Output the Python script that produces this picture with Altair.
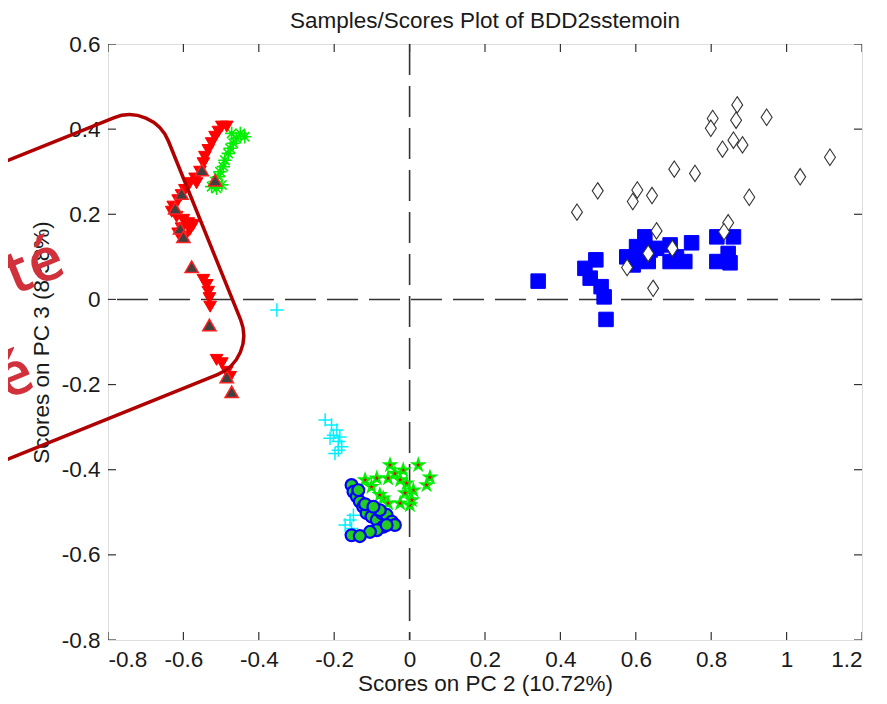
import altair as alt
import pandas as pd

# ---------------- data ----------------
x_ticks = [-0.8, -0.6, -0.4, -0.2, 0, 0.2, 0.4, 0.6, 0.8, 1.0, 1.2]
y_ticks = [-0.8, -0.6, -0.4, -0.2, 0, 0.2, 0.4, 0.6]

# white diamonds
dia_x = [0.444, 0.499, 0.604, 0.592, 0.643, 0.702, 0.757, 0.804, 0.799, 0.869, 0.866, 0.947,
         0.830, 0.859, 0.883, 1.115, 1.036, 0.901, 0.845, 0.834, 0.655, 0.633, 0.697, 0.577, 0.646]
dia_y = [0.205, 0.255, 0.257, 0.230, 0.244, 0.306, 0.296, 0.425, 0.402, 0.457, 0.421, 0.428,
         0.353, 0.374, 0.363, 0.334, 0.288, 0.240, 0.180, 0.159, 0.161, 0.108, 0.120, 0.075, 0.026]

# blue squares
sq_x = [0.341, 0.521, 0.465, 0.494, 0.479, 0.508, 0.516, 0.576, 0.593, 0.602, 0.624, 0.633,
        0.655, 0.691, 0.691, 0.730, 0.748, 0.815, 0.859, 0.815, 0.845, 0.850, 0.708, 0.638, 0.611]
sq_y = [0.043, -0.047, 0.073, 0.093, 0.050, 0.030, 0.006, 0.100, 0.081, 0.124, 0.147, 0.089,
        0.120, 0.128, 0.089, 0.089, 0.133, 0.147, 0.147, 0.089, 0.108, 0.086, 0.100, 0.116, 0.100]

# red downward triangles
rd_x = [-0.498, -0.485, -0.507, -0.516, -0.525, -0.534, -0.543, -0.547, -0.556, -0.569, -0.583,
        -0.596, -0.605, -0.614, -0.627, -0.631, -0.618, -0.600, -0.587, -0.605, -0.614, -0.596,
        -0.583, -0.574, -0.565, -0.547, -0.538, -0.534, -0.531, -0.529, -0.512, -0.498, -0.485, -0.476]
rd_y = [0.406, 0.406, 0.394, 0.382, 0.367, 0.351, 0.335, 0.320, 0.300, 0.284, 0.273,
        0.257, 0.245, 0.233, 0.218, 0.206, 0.194, 0.187, 0.179, 0.167, 0.155, 0.147,
        0.163, 0.175, 0.273, 0.046, 0.034, 0.018, 0.003, -0.017, -0.142, -0.150, -0.170, -0.182]

# dark upward triangles
du_x = [-0.551, -0.516, -0.605, -0.622, -0.609, -0.600, -0.578, -0.531, -0.485, -0.472]
du_y = [0.304, 0.280, 0.249, 0.214, 0.167, 0.147, 0.077, -0.060, -0.182, -0.217]

# green asterisks
ga_x = [-0.449, -0.459, -0.468, -0.476, -0.481, -0.490, -0.494, -0.503, -0.507, -0.516, -0.525,
        -0.512, -0.498, -0.437, -0.472]
ga_y = [0.390, 0.378, 0.367, 0.355, 0.343, 0.327, 0.312, 0.300, 0.288, 0.277, 0.265,
        0.261, 0.269, 0.382, 0.390]

# cyan plus
cp_x = [-0.352, -0.224, -0.207, -0.193, -0.202, -0.185, -0.189, -0.211, -0.189, -0.198, -0.180,
        -0.158, -0.171, -0.149, -0.154]
cp_y = [-0.025, -0.283, -0.295, -0.307, -0.319, -0.323, -0.334, -0.326, -0.354, -0.362, -0.346,
        -0.518, -0.530, -0.507, -0.538]

# green circles, blue edge
gc_x = [-0.154, -0.149, -0.140, -0.132, -0.123, -0.114, -0.101, -0.087, -0.074, -0.061, -0.047,
        -0.039, -0.070, -0.087, -0.105, -0.154, -0.132, -0.118, -0.136, -0.061, -0.079, -0.096]
gc_y = [-0.436, -0.452, -0.463, -0.475, -0.487, -0.502, -0.510, -0.518, -0.502, -0.506, -0.522,
        -0.530, -0.534, -0.542, -0.546, -0.554, -0.556, -0.481, -0.448, -0.530, -0.495, -0.487]

# red stars, green edge
rs_x = [-0.052, -0.017, -0.039, -0.118, -0.087, -0.057, 0.023, 0.054, 0.045, -0.008, 0.010,
        -0.101, -0.070, -0.057, -0.025, 0.001, -0.079, -0.012, 0.006, -0.025]
rs_y = [-0.389, -0.401, -0.409, -0.424, -0.420, -0.420, -0.389, -0.418, -0.436, -0.432, -0.448,
        -0.440, -0.467, -0.479, -0.479, -0.483, -0.459, -0.455, -0.471, -0.424]

# stamp overlay (anchor in data units)
stamp_x = [-0.544]
stamp_y = [0.162]
stamp_text = ["té", "é"]
stamp_text_x = [-0.905, -0.986]
stamp_text_y = [0.062, -0.205]

title_text = "Samples/Scores Plot of BDD2sstemoin"
x_title = "Scores on PC 2 (10.72%)"
y_title = "Scores on PC 3 (8.58%)"

# ---------------- chart ----------------
FONT = "Liberation Sans"
FS = 22.5
TXT = "#1a1a1a"
LABEL_EXPR = "'' + (round(datum.value * 10) / 10)"

xs = alt.Scale(domain=[-0.8, 1.2], nice=False, zero=False)
ys = alt.Scale(domain=[-0.8, 0.6], nice=False, zero=False)

X = alt.X("x:Q", scale=xs, axis=alt.Axis(values=x_ticks, labelExpr=LABEL_EXPR, ticks=False,
                                         domain=False, grid=False, title=x_title, orient="bottom",
                                         labelPadding=8, titlePadding=2, labelFontSize=FS,
                                         titleFontSize=FS, labelFont=FONT, titleFont=FONT,
                                         labelColor=TXT, titleColor=TXT,
                                         titleFontWeight="normal"))
Y = alt.Y("y:Q", scale=ys, axis=alt.Axis(values=y_ticks, labelExpr=LABEL_EXPR, ticks=False,
                                         domain=False, grid=False, title=y_title, orient="left",
                                         labelPadding=8, titlePadding=8, labelFontSize=FS,
                                         titleFontSize=FS, labelFont=FONT, titleFont=FONT,
                                         labelColor=TXT, titleColor=TXT,
                                         titleFontWeight="normal"))


def df(xv, yv, **extra):
    d = pd.DataFrame({"x": xv, "y": yv})
    for k, v in extra.items():
        d[k] = v
    return d


base_rule_v = alt.Chart(df([0], [0])).mark_rule(color="#333333", strokeWidth=1.6,
                                                strokeDash=[31, 11]).encode(x=X)
base_rule_h = alt.Chart(df([0], [0])).mark_rule(color="#333333", strokeWidth=1.6,
                                                strokeDash=[31, 11]).encode(y=Y)

tick_style = dict(color="#333333", thickness=1.2, size=16, clip=True, opacity=1)
ticks_b = alt.Chart(df(x_ticks, [-0.8] * len(x_ticks))).mark_tick(orient="vertical", **tick_style).encode(x=X, y=Y)
ticks_t = alt.Chart(df(x_ticks, [0.6] * len(x_ticks))).mark_tick(orient="vertical", **tick_style).encode(x=X, y=Y)
ticks_l = alt.Chart(df([-0.8] * len(y_ticks), y_ticks)).mark_tick(orient="horizontal", **tick_style).encode(x=X, y=Y)
ticks_r = alt.Chart(df([1.2] * len(y_ticks), y_ticks)).mark_tick(orient="horizontal", **tick_style).encode(x=X, y=Y)

DIAMOND = "M0,-1.5L1,0L0,1.5L-1,0Z"
PLUS = "M-1,0L1,0M0,-1L0,1"
ASTER = "M-1,0L1,0M0,-1L0,1M-0.7,-0.7L0.7,0.7M-0.7,0.7L0.7,-0.7"
PENTA = ("M0,-1L0.2245,-0.309L0.951,-0.309L0.363,0.118L0.588,0.809L0,0.382"
         "L-0.588,0.809L-0.363,0.118L-0.951,-0.309L-0.2245,-0.309Z")

squares = alt.Chart(df(sq_x, sq_y)).mark_point(shape="square", filled=True, fill="#0000ff",
                                               stroke="#0000ff", strokeWidth=1, size=210,
                                               opacity=1).encode(x=X, y=Y)
diamonds = alt.Chart(df(dia_x, dia_y)).mark_point(shape=DIAMOND, fill="white", stroke="#333333",
                                                  strokeWidth=1.1, size=120, opacity=1,
                                                  filled=True).encode(x=X, y=Y)
cyan = alt.Chart(df(cp_x, cp_y)).mark_point(shape=PLUS, filled=False, stroke="#00f0ff",
                                            strokeWidth=1.5, size=180, opacity=1).encode(x=X, y=Y)
aster = alt.Chart(df(ga_x, ga_y)).mark_point(shape=ASTER, filled=False, stroke="#00ee00",
                                             strokeWidth=1.6, size=180, opacity=1).encode(x=X, y=Y)
red_dn = alt.Chart(df(rd_x, rd_y)).mark_point(shape="triangle-down", filled=True, fill="#ff0000",
                                              stroke="#ff0000", strokeWidth=1, size=160,
                                              opacity=1).encode(x=X, y=Y)
dark_up = alt.Chart(df(du_x, du_y)).mark_point(shape="triangle-up", filled=True, fill="#404040",
                                               stroke="#ff2020", strokeWidth=1.5, size=175,
                                               opacity=1).encode(x=X, y=Y)
stars = alt.Chart(df(rs_x, rs_y)).mark_point(shape=PENTA, filled=True, fill="#e00000",
                                             stroke="#00ee00", strokeWidth=2, size=130,
                                             opacity=1).encode(x=X, y=Y)
circles = alt.Chart(df(gc_x, gc_y)).mark_point(shape="circle", filled=True, fill="#22cc22",
                                               stroke="#0000ff", strokeWidth=2.2, size=140,
                                               opacity=1).encode(x=X, y=Y)

STAMP = ("M0,-0.965 L0,0.965 C0,1.197 -0.188,1.385 -0.42,1.385 L-8,1.385 L-8,-1.385 "
         "L-0.42,-1.385 C-0.188,-1.385 0,-1.197 0,-0.965 Z")
stamp = alt.Chart(df(stamp_x, stamp_y)).mark_point(shape=STAMP, filled=False, stroke="#b00000",
                                                   strokeWidth=3.5, size=40000, angle=338,
                                                   opacity=1).encode(x=X, y=Y)
stamp_txt = alt.Chart(df(stamp_text_x, stamp_text_y, t=stamp_text)).mark_text(
    align="right", baseline="alphabetic", angle=338, fontSize=60, font="Open Sans",
    fontWeight=600, color="#d0313a").encode(x=X, y=Y, text="t:N")

chart = alt.layer(
    base_rule_v, base_rule_h, ticks_b, ticks_t, ticks_l, ticks_r,
    squares, diamonds, cyan, aster, red_dn, dark_up, stars, circles,
    stamp, stamp_txt
).properties(
    width=754, height=596,
    title=alt.TitleParams(title_text, font=FONT, fontSize=FS, fontWeight="normal",
                          color=TXT, offset=1, anchor="middle", frame="group"),
    autosize=alt.AutoSizeParams(type="none"),
    padding={"left": 100, "top": 36, "right": 17, "bottom": 56},
).configure_view(stroke="#333333", strokeWidth=1.3).configure(background="white")

chart.save("out.html", embed_options={"renderer": "svg", "actions": False})
